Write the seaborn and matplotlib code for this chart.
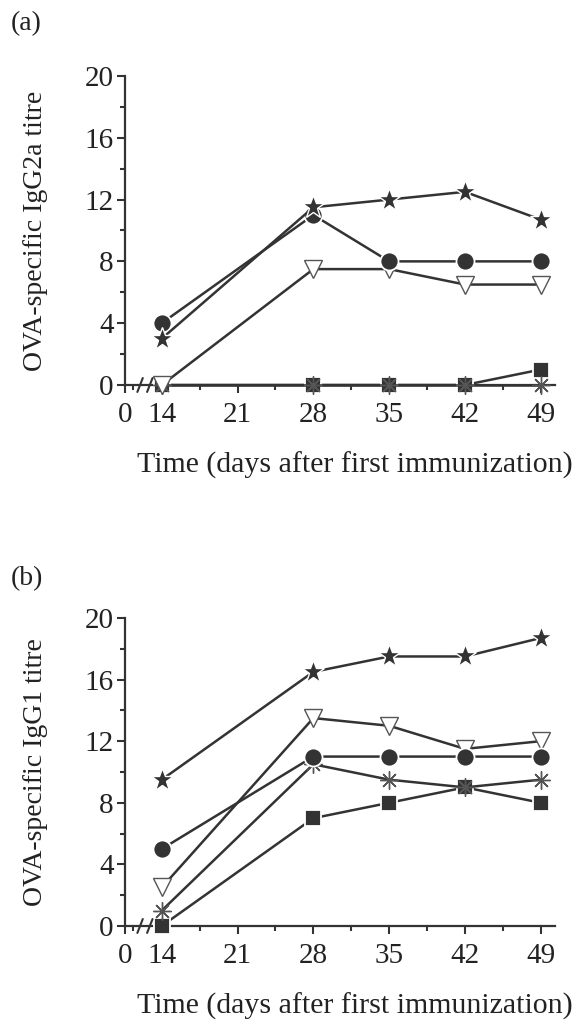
import numpy as np
import pandas as pd
import matplotlib
matplotlib.use("Agg")
import matplotlib.pyplot as plt
import seaborn as sns

sns.set_theme(style="ticks")
plt.rcParams["font.family"] = ["Liberation Serif", "DejaVu Serif"]

days = [14, 28, 35, 42, 49]

# IgG2a titres (panel a)
a_star = [3.0, 11.5, 12.0, 12.5, 10.7]
a_circle = [4.0, 11.0, 8.0, 8.0, 8.0]
a_triangle = [0.0, 7.5, 7.5, 6.5, 6.5]
a_square = [0.0, 0.0, 0.0, 0.0, 1.0]
a_asterisk = [0.0, 0.0, 0.0, 0.0, 0.0]

# IgG1 titres (panel b)
b_star = [9.5, 16.5, 17.5, 17.5, 18.7]
b_circle = [5.0, 11.0, 11.0, 11.0, 11.0]
b_triangle = [2.5, 13.5, 13.0, 11.5, 12.0]
b_square = [0.0, 7.0, 8.0, 9.0, 8.0]
b_asterisk = [1.0, 10.5, 9.5, 9.0, 9.5]

x_ticks = [14, 21, 28, 35, 42, 49]
y_ticks = [0, 4, 8, 12, 16, 20]
x_label = "Time (days after first immunization)"

INK = "#333333"
TXT = "#222222"
X0 = 10.6  # position of the "0" tick left of the axis break

styles = {
    "square": dict(marker="s", markersize=11, markerfacecolor=INK, markeredgecolor="white", markeredgewidth=1.3),
    "asterisk": dict(marker=(8, 2, 0), markersize=13, markeredgecolor="#555555", markeredgewidth=1.0),
    "triangle": dict(marker="v", markersize=13, markerfacecolor="white", markeredgecolor="#555555", markeredgewidth=1.0),
    "circle": dict(marker="o", markersize=13, markerfacecolor=INK, markeredgecolor="white", markeredgewidth=1.3),
    "star": dict(marker="*", markersize=17, markerfacecolor=INK, markeredgecolor="white", markeredgewidth=1.0),
}


def draw_panel(ax, series, ylabel):
    for name, vals in series.items():
        df = pd.DataFrame({"day": days, "titre": vals})
        sns.lineplot(data=df, x="day", y="titre", ax=ax, color=INK,
                     linewidth=1.8, clip_on=False, zorder=3, **styles[name])
    ax.set_xlim(X0, 50.3)
    ax.set_ylim(0, 20)
    ax.set_xticks([X0] + x_ticks)
    ax.set_xticklabels(["0"] + [str(t) for t in x_ticks])
    ax.set_xticks([11.35] + [t + 3.5 for t in x_ticks[:-1]], minor=True)
    ax.set_yticks(y_ticks)
    ax.set_yticks([2, 6, 10, 14, 18], minor=True)
    ax.tick_params(which="major", length=6, width=1.5, color=INK, labelsize=21,
                   labelcolor=TXT)
    ax.tick_params(axis="x", which="major", pad=6)
    ax.tick_params(axis="y", which="major", pad=2)
    ax.tick_params(which="minor", length=3.5, width=1.5, color=INK)
    for s in ("top", "right"):
        ax.spines[s].set_visible(False)
    for s in ("left", "bottom"):
        ax.spines[s].set_linewidth(1.6)
        ax.spines[s].set_color(INK)
    ax.set_xlabel(x_label, fontsize=21.5, color=TXT)
    ax.xaxis.set_label_coords(0.535, -0.215)
    ax.set_ylabel(ylabel, fontsize=20, color=TXT)
    ax.yaxis.set_label_coords(-0.178, 0.5)
    # axis break marks
    for xb in (12.0, 12.9):
        ax.plot([xb - 0.25, xb + 0.25], [-0.45, 0.45], color=INK, lw=1.5,
                clip_on=False, zorder=4)
    if ax.get_legend() is not None:
        ax.get_legend().remove()


fig = plt.figure(figsize=(5.81, 10.25), dpi=100)
ax_a = fig.add_axes([0.215, 0.6244, 0.74, 0.3015])
ax_b = fig.add_axes([0.215, 0.0966, 0.74, 0.3005])

draw_panel(ax_a, {"square": a_square, "asterisk": a_asterisk, "triangle": a_triangle,
                  "circle": a_circle, "star": a_star},
           "OVA-specific IgG2a titre")
draw_panel(ax_b, {"square": b_square, "asterisk": b_asterisk, "triangle": b_triangle,
                  "circle": b_circle, "star": b_star},
           "OVA-specific IgG1 titre")

fig.text(11 / 581, 1 - 24 / 1025, "(a)", fontsize=20, color=TXT, va="center", ha="left")
fig.text(11 / 581, 1 - 579 / 1025, "(b)", fontsize=20, color=TXT, va="center", ha="left")

fig.savefig("out.png", dpi=100)
